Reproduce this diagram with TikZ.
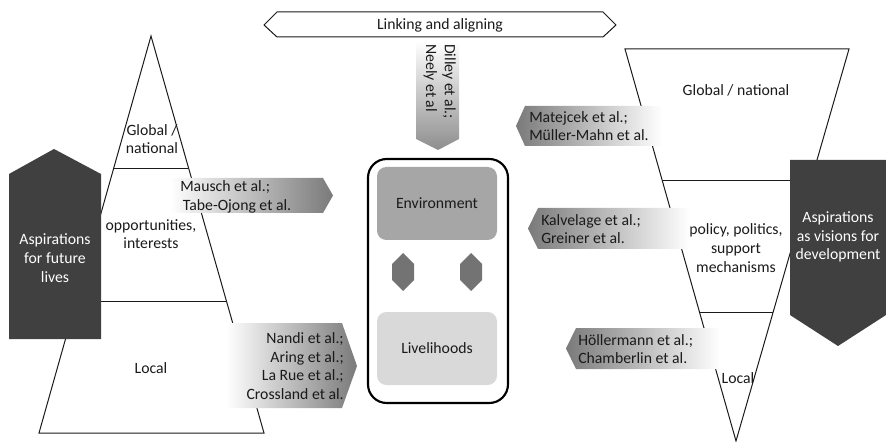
\documentclass[tikz,border=0pt]{standalone}
\usepackage{fontspec}
\setmainfont{Carlito}
\definecolor{darkbox}{HTML}{404040}
\definecolor{envgray}{HTML}{A6A6A6}
\definecolor{livgray}{HTML}{D9D9D9}
\definecolor{hexgray}{HTML}{737373}
\definecolor{arrowgray}{HTML}{7A7A7A}
\definecolor{txt}{HTML}{1A1A1A}
\begin{document}
\begin{tikzpicture}[x=0.75pt,y=-0.75pt,
  font=\fontsize{11.8}{14}\selectfont, text=txt,
  outline/.style={draw=txt, line width=0.75pt},
  lbl/.style={inner sep=0pt},
  inbox/.style={rounded corners=7pt, minimum width=90pt, minimum height=54.75pt, inner sep=0pt}]
\useasboundingbox (0,0) rectangle (886,442);

% ---------- top banner ----------
\draw[outline, fill=white] (264,25) -- (277,12) -- (603,12) -- (616,25) -- (603,37) -- (277,37) -- cycle;
\node[lbl] (link) at (440,25) {Linking and aligning};

% ---------- Dilley arrow ----------
\shade[top color=white, bottom color=arrowgray!85] (416,41) -- (459,41) -- (459,139) -- (438,150) -- (416,139) -- cycle;
\node[lbl, rotate=-90, align=left, anchor=north west] (dilley) at (456,44) {Dilley et al.;\\Neely et al};

% ---------- left triangle ----------
\draw[outline] (151,36) -- (264,433) -- (39,433) -- cycle;
\draw[outline] (113,169) -- (188,169);
\draw[outline] (76,301) -- (226,301);
\node[lbl, align=center] (lglob) at (152,139) {Global /\\national};
\node[lbl, align=center] (lopp) at (151,234) {opportunities,\\interests};
\node[lbl] (llocal) at (151,368) {Local};

% left dark box
\fill[darkbox] (9,174) -- (54,149) -- (101,174) -- (101,339) -- (9,339) -- cycle;
\node[lbl, align=center, text=white] (asp1) at (55,258) {Aspirations\\for future\\lives};

% ---------- right inverted triangle ----------
\draw[outline] (625,49) -- (849,49) -- (736,441) -- cycle;
\draw[outline] (662,181) -- (811,181);
\draw[outline] (700,312) -- (773,312);
\node[lbl] (rglob) at (736,90) {Global / national};
\node[lbl, align=center] (rpol) at (736,248) {policy, politics,\\support\\mechanisms};
\node[lbl] (rlocal) at (738,378) {Local};

% right dark box
\fill[darkbox] (790,160) -- (886,160) -- (886,315) -- (838,346) -- (790,315) -- cycle;
\node[lbl, align=center, text=white] (asp2) at (838,237) {Aspirations\\as visions for\\development};

% ---------- central box ----------
\draw[line width=1.6pt, rounded corners=14pt] (368,159) rectangle (508,403);
\node[inbox, fill=envgray] (env) at (437,203.5) {Environment};
\node[inbox, fill=livgray] (liv) at (437,348.5) {Livelihoods};
\fill[hexgray] (403,253) -- (414,264) -- (414,280) -- (403,291) -- (392,280) -- (392,264) -- cycle;
\fill[hexgray] (471,253) -- (482,264) -- (482,280) -- (471,291) -- (460,280) -- (460,264) -- cycle;

% ---------- right-pointing citation arrows ----------
\shade[left color=white, right color=arrowgray] (170,178) -- (323,178) -- (333,195.5) -- (323,213) -- (170,213) -- cycle;
\node[lbl, align=left, anchor=west] (mausch) at (180,197) {Mausch et al.;\\\hspace*{2pt}Tabe-Ojong et al.};

\shade[left color=white, right color=arrowgray] (226,323) -- (342,323) -- (357,366) -- (342,408) -- (226,408) -- cycle;
\node[lbl, align=right, anchor=east] (nandi) at (344,366) {Nandi et al.;\\Aring et al.;\\La Rue et al.;\\Crossland et al.};

% ---------- left-pointing citation arrows ----------
\shade[left color=arrowgray, right color=white] (516,126) -- (525,106) -- (662,106) -- (662,146) -- (525,146) -- cycle;
\node[lbl, align=left, anchor=west] (matej) at (529,126) {Matejcek et al.;\\M\"uller-Mahn et al.};

\shade[left color=arrowgray, right color=white] (528,228.5) -- (538,208) -- (690,208) -- (690,249) -- (538,249) -- cycle;
\node[lbl, align=left, anchor=west] (kalv) at (541,229) {Kalvelage et al.;\\Greiner et al.};

\shade[left color=arrowgray, right color=white] (566,348.5) -- (576,328) -- (720,328) -- (720,369) -- (576,369) -- cycle;
\node[lbl, align=left, anchor=west] (holl) at (578,349) {H\"ollermann et al.;\\Chamberlin et al.};
\end{tikzpicture}
\end{document}
